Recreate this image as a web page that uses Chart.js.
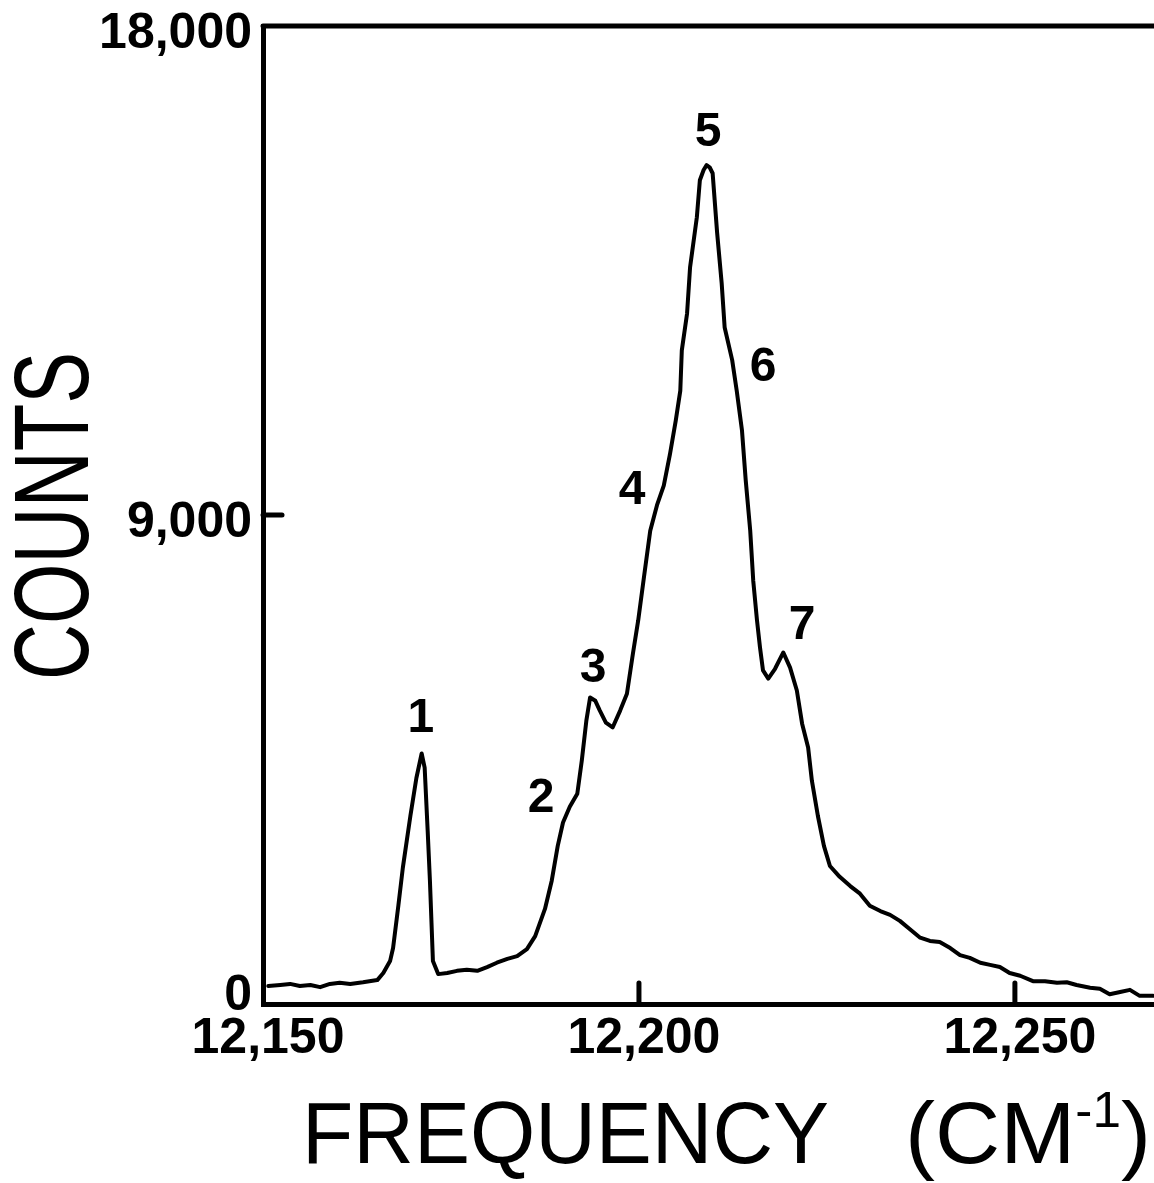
<!DOCTYPE html>
<html lang="en">
<head>
    <meta charset="UTF-8">
    <title>Counts vs Frequency</title>
    <script src="https://cdn.jsdelivr.net/npm/chart.js"></script>
    <style>
        body { margin: 0; background: #fff; }
        canvas { display: block; }
    </style>
</head>
<body>
    <canvas id="chart" width="1154" height="1183"></canvas>
    <script>
        // spectrum: frequency (cm-1) against counts
        const frequency = [
            12150.7, 12152.3, 12153.6, 12154.9, 12156.3, 12157.6, 12158.9, 12160.2, 12161.6, 12163.3,
            12165.2, 12166.0, 12166.9, 12167.3, 12168.0, 12168.6, 12169.6, 12170.4, 12171.1, 12171.5,
            12171.9, 12172.2, 12172.6, 12173.3, 12174.5, 12175.8, 12177.1, 12178.5, 12179.8, 12181.1,
            12182.5, 12183.8, 12185.1, 12186.2, 12187.5, 12188.4, 12189.2, 12189.9, 12190.8, 12191.8,
            12192.4, 12193.0, 12193.5, 12194.2, 12194.8, 12195.6, 12196.5, 12197.5, 12198.4, 12199.2,
            12199.9, 12200.7, 12201.5, 12202.4, 12203.3, 12204.1, 12204.9, 12205.5, 12205.7, 12206.4,
            12206.8, 12207.7, 12208.1, 12208.6, 12209.0, 12209.4, 12209.8, 12210.4, 12211.0, 12211.4,
            12212.4, 12213.0, 12213.7, 12214.2, 12214.8, 12215.2, 12215.7, 12216.1, 12216.5, 12217.2,
            12218.1, 12219.2, 12220.1, 12221.0, 12221.7, 12222.5, 12223.0, 12223.8, 12224.6, 12225.4,
            12226.7, 12228.1, 12229.4, 12230.7, 12232.1, 12233.4, 12234.7, 12236.0, 12237.4, 12238.7,
            12240.0, 12241.4, 12242.7, 12244.0, 12245.4, 12246.7, 12248.0, 12249.3, 12250.7, 12252.4,
            12254.0, 12255.6, 12256.9, 12258.2, 12260.0, 12261.3, 12262.6, 12264.0, 12265.3, 12266.6,
            12268.4
        ];
        const counts = [
            330, 350, 370, 330, 350, 310, 370, 390, 370, 400,
            440, 570, 790, 1030, 1810, 2510, 3460, 4160, 4610, 4350,
            3190, 2270, 790, 550, 570, 610, 630, 610, 680, 760,
            830, 880, 1010, 1250, 1750, 2270, 2910, 3340, 3630, 3870,
            4480, 5210, 5640, 5580, 5400, 5180, 5090, 5400, 5710, 6450,
            7060, 7890, 8710, 9180, 9540, 10100, 10740, 11290, 12030, 12710,
            13560, 14480, 15160, 15350, 15440, 15400, 15290, 14190, 13270, 12450,
            11850, 11290, 10560, 9640, 8710, 7790, 7060, 6560, 6140, 5990,
            6170, 6470, 6190, 5770, 5160, 4720, 4110, 3460, 2910, 2540,
            2340, 2170, 2030, 1810, 1710, 1640, 1530, 1380, 1220, 1160,
            1140, 1030, 900, 850, 760, 720, 680, 570, 520, 420,
            420, 390, 400, 350, 300, 280, 180, 220, 260, 150,
            150
        ];

        const xTicks = [12150, 12200, 12250];
        const yTicks = [0, 9000, 18000];

        // numbered peaks, placed in data units next to the curve
        const peakNames = ['1', '2', '3', '4', '5', '6', '7'];
        const peakFreq = [12171.0, 12187.0, 12193.9, 12199.1, 12209.2, 12216.5, 12221.7];
        const peakCount = [5320, 3850, 6240, 9510, 16100, 11780, 7030];

        const fmt = v => v.toLocaleString('en-US');

        // frame top, inward ticks and all lettering
        const lettering = {
            id: 'lettering',
            afterDraw(chart) {
                const ctx = chart.ctx;
                const area = chart.chartArea;
                const xs = chart.scales.x;
                const ys = chart.scales.y;
                ctx.save();
                ctx.strokeStyle = '#000';
                ctx.lineWidth = 5;
                ctx.lineCap = 'round';

                ctx.beginPath();
                ctx.moveTo(area.left, area.top);
                ctx.lineTo(area.right, area.top);
                ctx.stroke();

                xs.ticks.forEach(t => {
                    if (t.value <= xs.min) return;
                    const px = xs.getPixelForValue(t.value);
                    ctx.beginPath();
                    ctx.moveTo(px, area.bottom);
                    ctx.lineTo(px, area.bottom - 21);
                    ctx.stroke();
                });
                ys.ticks.forEach(t => {
                    if (t.value <= ys.min || t.value >= ys.max) return;
                    const py = ys.getPixelForValue(t.value);
                    ctx.beginPath();
                    ctx.moveTo(area.left, py);
                    ctx.lineTo(area.left + 19, py);
                    ctx.stroke();
                });

                ctx.fillStyle = '#000';
                ctx.textBaseline = 'alphabetic';
                ctx.font = 'bold 50px "Liberation Sans"';
                ctx.textAlign = 'center';
                xs.ticks.forEach(t => {
                    ctx.fillText(fmt(t.value), xs.getPixelForValue(t.value) + 5, area.bottom + 49);
                });
                ctx.textAlign = 'right';
                ys.ticks.forEach(t => {
                    const py = ys.getPixelForValue(t.value);
                    ctx.fillText(fmt(t.value), area.left - 11, Math.min(py + 22, area.bottom + 6));
                });

                // peak numbers
                ctx.font = 'bold 48px "Liberation Sans"';
                ctx.textAlign = 'center';
                peakNames.forEach((name, i) => {
                    const px = xs.getPixelForValue(peakFreq[i]);
                    const py = ys.getPixelForValue(peakCount[i]);
                    ctx.fillText(name, px, py + 17);
                });

                // y title, narrow lettering reading upwards
                ctx.font = '106px "Liberation Sans"';
                ctx.textAlign = 'center';
                const yTitle = 'COUNTS';
                const ySx = 328 / ctx.measureText(yTitle).width;
                ctx.save();
                ctx.translate(88, (area.top + area.bottom) / 2 + 1);
                ctx.rotate(-Math.PI / 2);
                ctx.scale(ySx, 1);
                ctx.fillText(yTitle, 0, 0);
                ctx.restore();

                // x title: word, then the unit with superscript -1
                const base = 1163;
                ctx.textAlign = 'left';
                ctx.font = '88px "Liberation Sans"';
                const word = 'FREQUENCY';
                const wWord = ctx.measureText(word).width;
                ctx.save();
                ctx.translate(302, base);
                ctx.scale(527 / wWord, 1);
                ctx.fillText(word, 0, 0);
                ctx.restore();

                const unit = '(CM';
                const sup = '-1';
                const tail = ')';
                const wUnit = ctx.measureText(unit).width;
                const wTail = ctx.measureText(tail).width;
                ctx.font = '50px "Liberation Sans"';
                const wSup = ctx.measureText(sup).width;
                ctx.save();
                ctx.translate(905, base);
                ctx.scale(246 / (wUnit + wSup + wTail), 1);
                ctx.font = '88px "Liberation Sans"';
                ctx.fillText(unit, 0, 0);
                ctx.font = '50px "Liberation Sans"';
                ctx.fillText(sup, wUnit, -36);
                ctx.font = '88px "Liberation Sans"';
                ctx.fillText(tail, wUnit + wSup, 0);
                ctx.restore();

                ctx.restore();
            }
        };

        const points = frequency.map((f, i) => ({ x: f, y: counts[i] }));

        new Chart(document.getElementById('chart'), {
            type: 'line',
            data: {
                datasets: [{
                    data: points,
                    borderColor: '#000',
                    borderWidth: 4,
                    pointRadius: 0,
                    tension: 0,
                    borderJoinStyle: 'round',
                    borderCapStyle: 'round'
                }]
            },
            options: {
                responsive: false,
                animation: false,
                layout: { padding: { top: 26, right: 0, left: 0, bottom: 0 } },
                plugins: {
                    legend: { display: false },
                    tooltip: { enabled: false }
                },
                scales: {
                    x: {
                        type: 'linear',
                        min: 12150,
                        max: 12268.5,
                        grid: { display: false, drawTicks: false },
                        border: { display: true, color: '#000', width: 5 },
                        ticks: { display: false },
                        afterBuildTicks: s => { s.ticks = xTicks.map(v => ({ value: v })); },
                        afterFit: s => { s.height = 1183 - 1004; }
                    },
                    y: {
                        type: 'linear',
                        min: 0,
                        max: 18000,
                        grid: { display: false, drawTicks: false },
                        border: { display: true, color: '#000', width: 5 },
                        ticks: { display: false },
                        afterBuildTicks: s => { s.ticks = yTicks.map(v => ({ value: v })); },
                        afterFit: s => { s.width = 263; }
                    }
                }
            },
            plugins: [lettering]
        });
    </script>
</body>
</html>
